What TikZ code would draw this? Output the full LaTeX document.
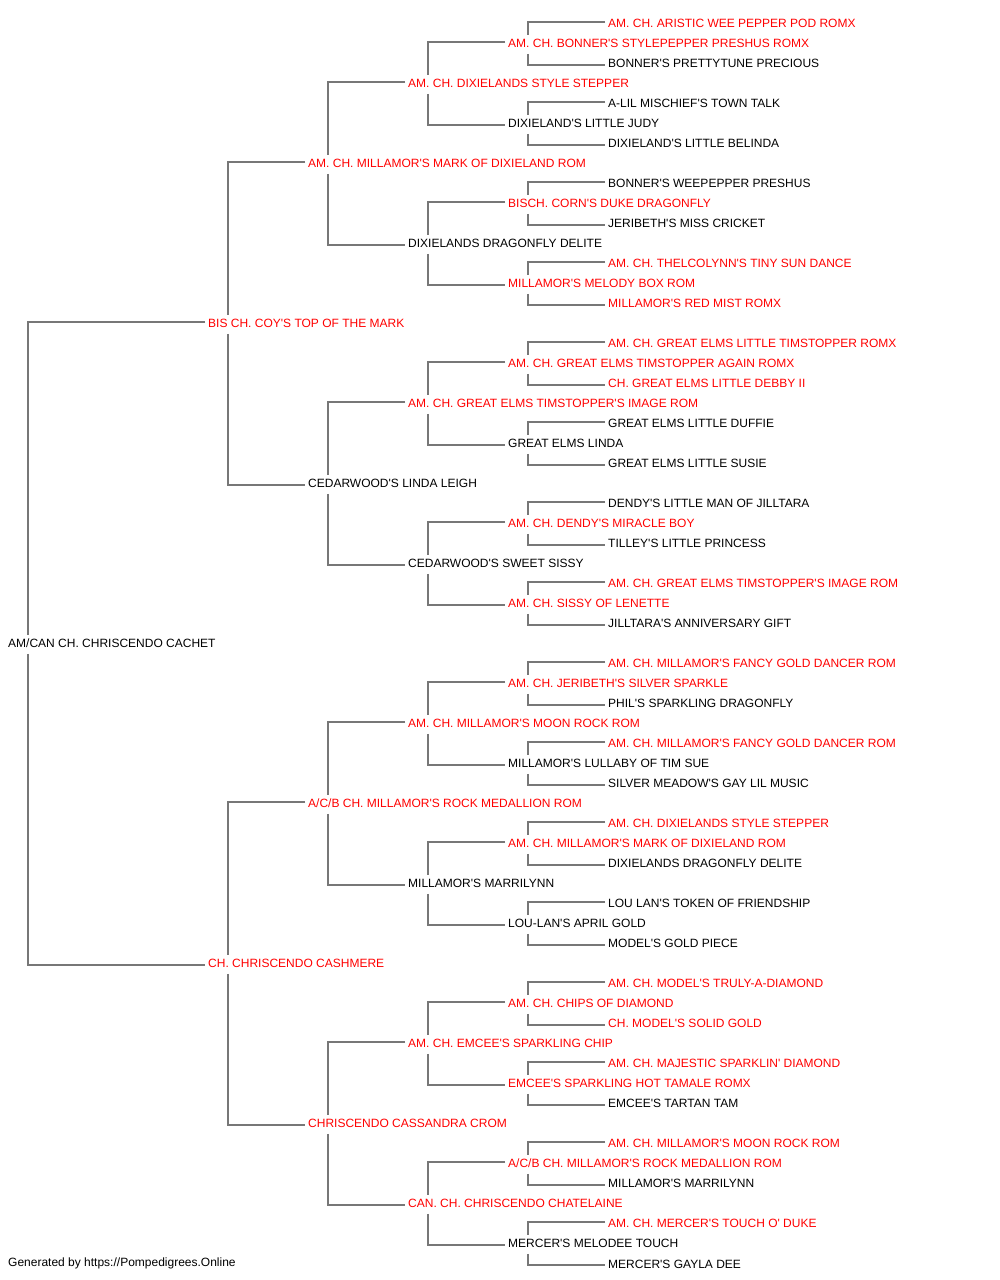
\documentclass[tikz,border=0pt]{standalone}
\usepackage{fontspec}
\newfontfamily\lib{Liberation Sans}
\definecolor{linegray}{RGB}{119,119,119}
\definecolor{pred}{RGB}{255,0,0}
\tikzset{
  pname/.style={anchor=base west, inner sep=0pt, font=\lib\fontsize{12}{14}\selectfont},
  conn/.style={draw=linegray, line width=1.5pt}
}
\newcommand\pn[4]{% row gen color text
  \pgfmathsetmacro\pnx{ifthenelse(#2==0,8,108+100*#2)}
  \node[pname, text=#3] (n#1) at (\pnx, {1252-20*#1}) {#4};}
\begin{document}
\begin{tikzpicture}[x=1pt,y=1pt]
\useasboundingbox (0,0) rectangle (1000,1280);
\fill[white] (0,0) rectangle (1000,1280);
\pn{0}{5}{pred}{AM. CH. ARISTIC WEE PEPPER POD ROMX}
\pn{1}{4}{pred}{AM. CH. BONNER'S STYLEPEPPER PRESHUS ROMX}
\pn{2}{5}{black}{BONNER'S PRETTYTUNE PRECIOUS}
\pn{3}{3}{pred}{AM. CH. DIXIELANDS STYLE STEPPER}
\pn{4}{5}{black}{A-LIL MISCHIEF'S TOWN TALK}
\pn{5}{4}{black}{DIXIELAND'S LITTLE JUDY}
\pn{6}{5}{black}{DIXIELAND'S LITTLE BELINDA}
\pn{7}{2}{pred}{AM. CH. MILLAMOR'S MARK OF DIXIELAND ROM}
\pn{8}{5}{black}{BONNER'S WEEPEPPER PRESHUS}
\pn{9}{4}{pred}{BISCH. CORN'S DUKE DRAGONFLY}
\pn{10}{5}{black}{JERIBETH'S MISS CRICKET}
\pn{11}{3}{black}{DIXIELANDS DRAGONFLY DELITE}
\pn{12}{5}{pred}{AM. CH. THELCOLYNN'S TINY SUN DANCE}
\pn{13}{4}{pred}{MILLAMOR'S MELODY BOX ROM}
\pn{14}{5}{pred}{MILLAMOR'S RED MIST ROMX}
\pn{15}{1}{pred}{BIS CH. COY'S TOP OF THE MARK}
\pn{16}{5}{pred}{AM. CH. GREAT ELMS LITTLE TIMSTOPPER ROMX}
\pn{17}{4}{pred}{AM. CH. GREAT ELMS TIMSTOPPER AGAIN ROMX}
\pn{18}{5}{pred}{CH. GREAT ELMS LITTLE DEBBY II}
\pn{19}{3}{pred}{AM. CH. GREAT ELMS TIMSTOPPER'S IMAGE ROM}
\pn{20}{5}{black}{GREAT ELMS LITTLE DUFFIE}
\pn{21}{4}{black}{GREAT ELMS LINDA}
\pn{22}{5}{black}{GREAT ELMS LITTLE SUSIE}
\pn{23}{2}{black}{CEDARWOOD'S LINDA LEIGH}
\pn{24}{5}{black}{DENDY'S LITTLE MAN OF JILLTARA}
\pn{25}{4}{pred}{AM. CH. DENDY'S MIRACLE BOY}
\pn{26}{5}{black}{TILLEY'S LITTLE PRINCESS}
\pn{27}{3}{black}{CEDARWOOD'S SWEET SISSY}
\pn{28}{5}{pred}{AM. CH. GREAT ELMS TIMSTOPPER'S IMAGE ROM}
\pn{29}{4}{pred}{AM. CH. SISSY OF LENETTE}
\pn{30}{5}{black}{JILLTARA'S ANNIVERSARY GIFT}
\pn{31}{0}{black}{AM/CAN CH. CHRISCENDO CACHET}
\pn{32}{5}{pred}{AM. CH. MILLAMOR'S FANCY GOLD DANCER ROM}
\pn{33}{4}{pred}{AM. CH. JERIBETH'S SILVER SPARKLE}
\pn{34}{5}{black}{PHIL'S SPARKLING DRAGONFLY}
\pn{35}{3}{pred}{AM. CH. MILLAMOR'S MOON ROCK ROM}
\pn{36}{5}{pred}{AM. CH. MILLAMOR'S FANCY GOLD DANCER ROM}
\pn{37}{4}{black}{MILLAMOR'S LULLABY OF TIM SUE}
\pn{38}{5}{black}{SILVER MEADOW'S GAY LIL MUSIC}
\pn{39}{2}{pred}{A/C/B CH. MILLAMOR'S ROCK MEDALLION ROM}
\pn{40}{5}{pred}{AM. CH. DIXIELANDS STYLE STEPPER}
\pn{41}{4}{pred}{AM. CH. MILLAMOR'S MARK OF DIXIELAND ROM}
\pn{42}{5}{black}{DIXIELANDS DRAGONFLY DELITE}
\pn{43}{3}{black}{MILLAMOR'S MARRILYNN}
\pn{44}{5}{black}{LOU LAN'S TOKEN OF FRIENDSHIP}
\pn{45}{4}{black}{LOU-LAN'S APRIL GOLD}
\pn{46}{5}{black}{MODEL'S GOLD PIECE}
\pn{47}{1}{pred}{CH. CHRISCENDO CASHMERE}
\pn{48}{5}{pred}{AM. CH. MODEL'S TRULY-A-DIAMOND}
\pn{49}{4}{pred}{AM. CH. CHIPS OF DIAMOND}
\pn{50}{5}{pred}{CH. MODEL'S SOLID GOLD}
\pn{51}{3}{pred}{AM. CH. EMCEE'S SPARKLING CHIP}
\pn{52}{5}{pred}{AM. CH. MAJESTIC SPARKLIN' DIAMOND}
\pn{53}{4}{pred}{EMCEE'S SPARKLING HOT TAMALE ROMX}
\pn{54}{5}{black}{EMCEE'S TARTAN TAM}
\pn{55}{2}{pred}{CHRISCENDO CASSANDRA CROM}
\pn{56}{5}{pred}{AM. CH. MILLAMOR'S MOON ROCK ROM}
\pn{57}{4}{pred}{A/C/B CH. MILLAMOR'S ROCK MEDALLION ROM}
\pn{58}{5}{black}{MILLAMOR'S MARRILYNN}
\pn{59}{3}{pred}{CAN. CH. CHRISCENDO CHATELAINE}
\pn{60}{5}{pred}{AM. CH. MERCER'S TOUCH O' DUKE}
\pn{61}{4}{black}{MERCER'S MELODEE TOUCH}
\pn{62}{5}{black}{MERCER'S GAYLA DEE}
\node[pname, text=black] (footer) at (8,13) {Generated by https://Pompedigrees.Online};
\foreach \r/\d in {31/16,15/8,47/8,7/4,23/4,39/4,55/4,
  3/2,11/2,19/2,27/2,35/2,43/2,51/2,59/2,
  1/1,5/1,9/1,13/1,17/1,21/1,25/1,29/1,33/1,37/1,41/1,45/1,49/1,53/1,57/1,61/1}{
  \pgfmathtruncatemacro\ca{\r-\d}
  \pgfmathtruncatemacro\cb{\r+\d}
  \draw[conn] ([xshift=-3pt,yshift=6pt]n\ca.base west) -| ([xshift=20pt,yshift=13pt]n\r.base west);
  \draw[conn] ([xshift=20pt,yshift=-6pt]n\r.base west) |- ([xshift=-3pt,yshift=3pt]n\cb.base west);
}
\end{tikzpicture}
\end{document}
